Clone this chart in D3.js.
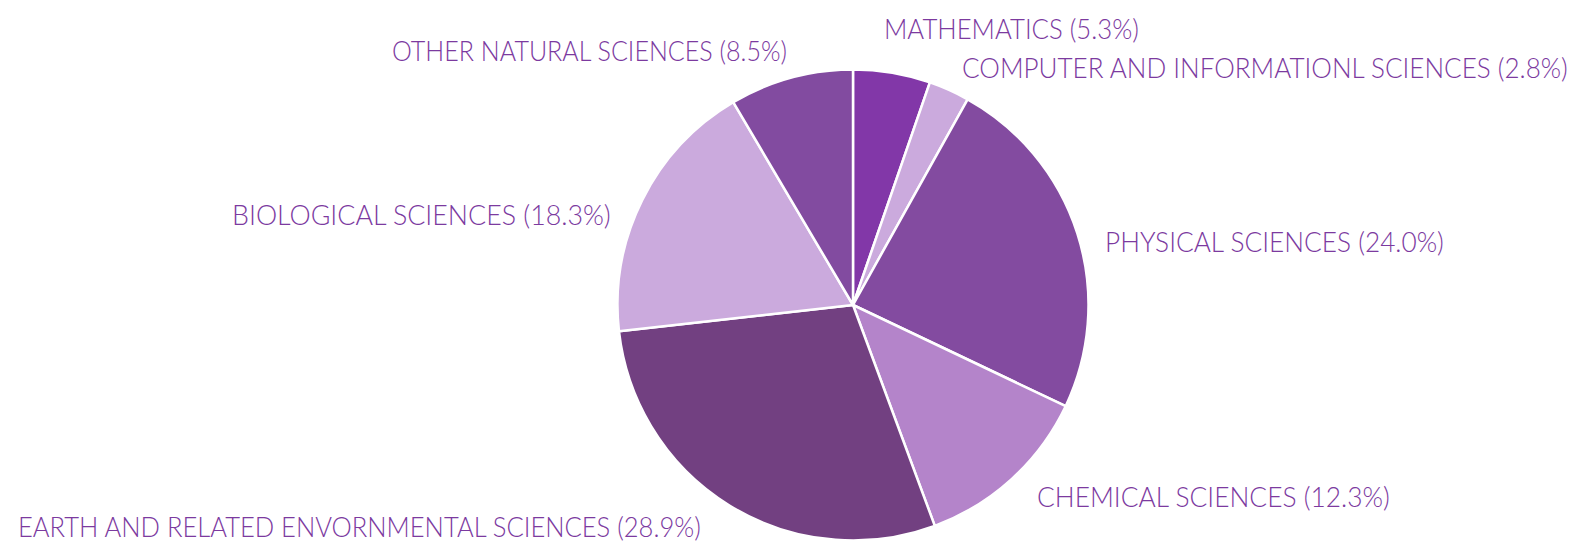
<!DOCTYPE html>
<html>
<head>
<meta charset="utf-8">
<script src="https://cdn.jsdelivr.net/npm/d3@7"></script>
<style>
  html, body { margin: 0; padding: 0; background: #fff; }
  #chart { width: 1578px; height: 545px; }
</style>
</head>
<body>
<div id="chart"></div>
<script>
// data, clockwise from 12 o'clock
var categories = [
  "MATHEMATICS",
  "COMPUTER AND INFORMATIONL SCIENCES",
  "PHYSICAL SCIENCES",
  "CHEMICAL SCIENCES",
  "EARTH AND RELATED ENVORNMENTAL SCIENCES",
  "BIOLOGICAL SCIENCES",
  "OTHER NATURAL SCIENCES"
];
var shares = [5.3, 2.8, 24.0, 12.3, 28.9, 18.3, 8.5];
var sliceColors = ["#8237a8", "#cbaadd", "#834ba0", "#b484ca", "#724081", "#cbaadd", "#824ba0"];

// where each label sits: left x, baseline y, width it spans
var labelLayout = [
  [884, 39, 255],
  [962, 78, 606],
  [1105, 252, 339],
  [1037, 507, 353],
  [18, 537, 683],
  [232, 225, 379],
  [392, 61, 395]
];

var w = 1578;
var h = 545;
var cx = 853;
var cy = 305;
var radius = 235.5;

var svg = d3.select("#chart")
  .append("svg")
  .attr("width", w)
  .attr("height", h);

var pie = d3.pie()
  .sort(null)
  .value(function(d) { return d; });

var arc = d3.arc()
  .innerRadius(0)
  .outerRadius(radius);

var slices = svg.append("g")
  .attr("transform", "translate(" + cx + "," + cy + ")")
  .selectAll("path")
  .data(pie(shares))
  .enter()
    .append("path")
    .attr("d", arc)
    .style("fill", function(d, i) { return sliceColors[i]; })
    .style("stroke", "#fff")
    .style("stroke-width", 2.5)
    .style("stroke-linejoin", "round");

var labels = svg.append("g")
  .selectAll("text")
  .data(categories)
  .enter()
    .append("text")
    .style("font-family", "Lato, 'Open Sans', sans-serif")
    .style("font-size", "27px")
    .style("font-weight", 300)
    .style("fill", "#7c3a9f")
    .text(function(d, i) { return d + " (" + shares[i].toFixed(1) + "%)"; });

// squeeze each label horizontally to the width it takes in the original
labels.attr("transform", function(d, i) {
  var natural = this.getComputedTextLength();
  var sx = labelLayout[i][2] / natural;
  return "translate(" + labelLayout[i][0] + "," + labelLayout[i][1] + ") scale(" + sx + ",1)";
});
</script>
</body>
</html>
